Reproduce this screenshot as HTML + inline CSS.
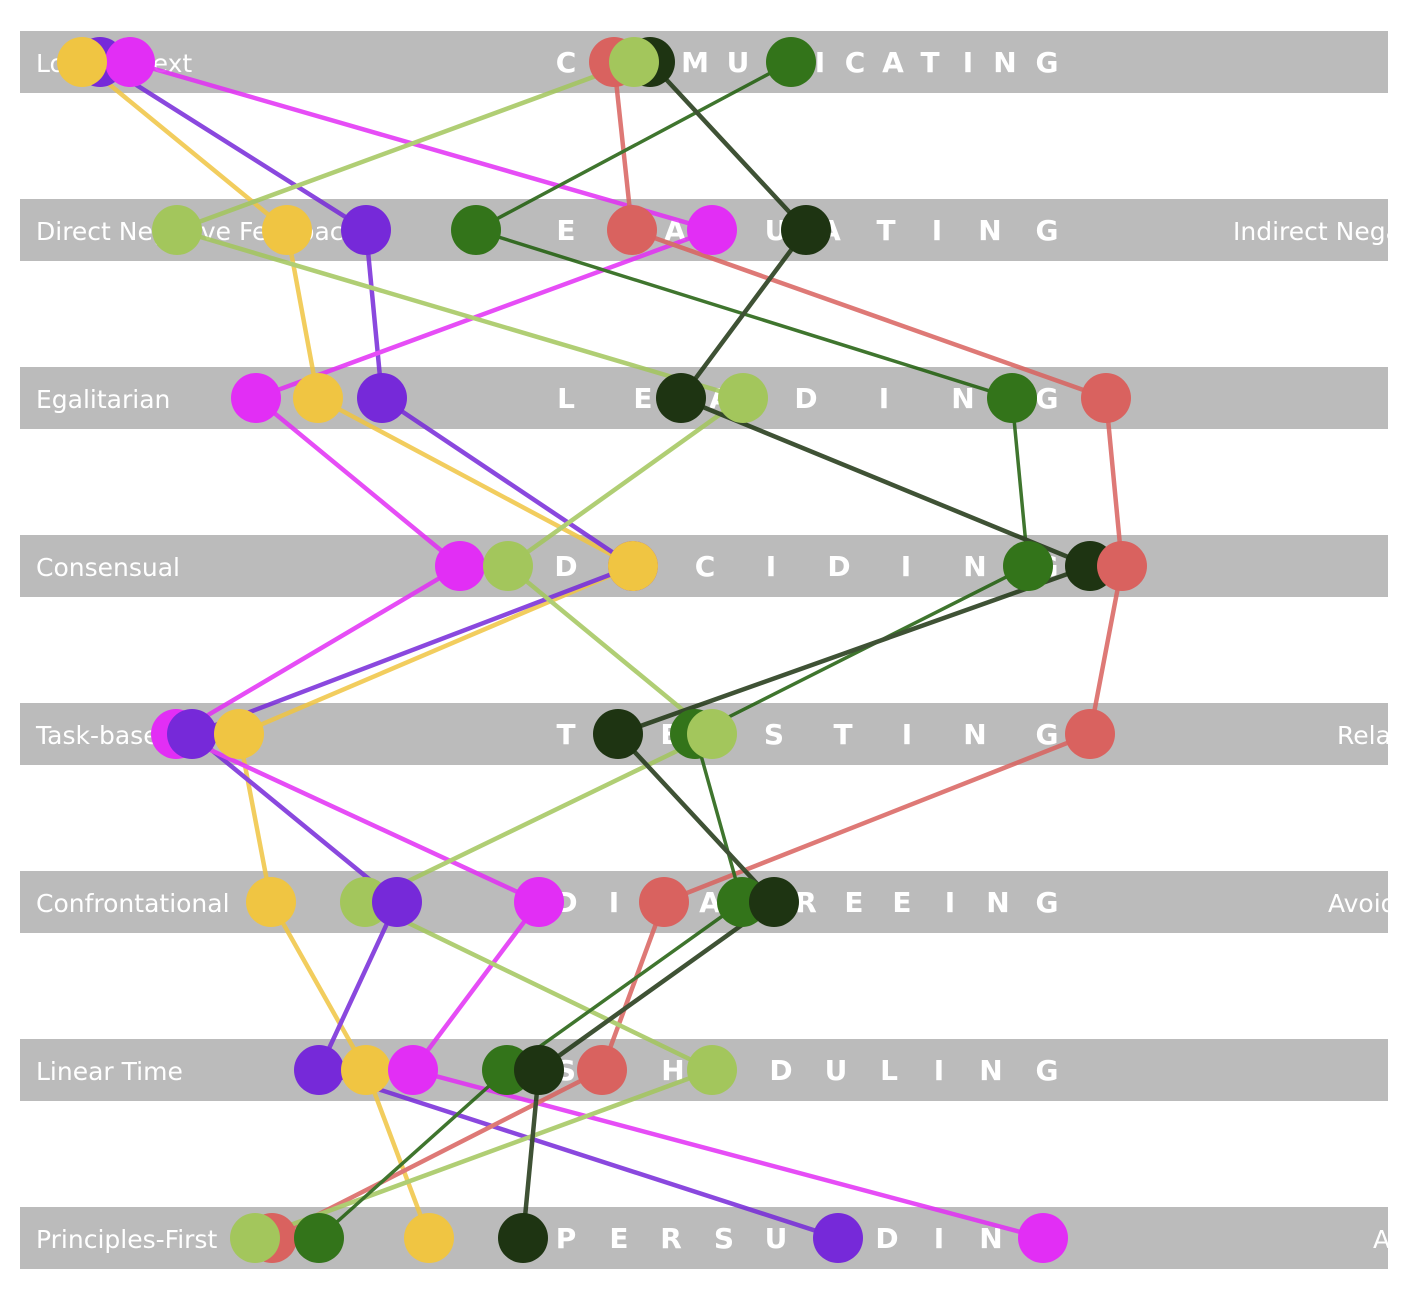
<!DOCTYPE html>
<html><head><meta charset="utf-8"><style>
html,body{margin:0;padding:0;background:#fff;}
svg{display:block;}
.lab{font-family:"DejaVu Sans","Liberation Sans",sans-serif;font-size:25px;fill:#fff;}
.let{font-family:"DejaVu Sans","Liberation Sans",sans-serif;font-size:28px;font-weight:bold;fill:#fff;text-anchor:middle;}
</style></head><body>
<svg width="1404" height="1290" viewBox="0 0 1404 1290" xmlns="http://www.w3.org/2000/svg">
<defs><clipPath id="c"><rect x="20" y="0" width="1368" height="1290"/></clipPath></defs>
<g fill="#bbbbbb">
<rect x="20" y="31" width="1368" height="62"/>
<rect x="20" y="199" width="1368" height="62"/>
<rect x="20" y="367" width="1368" height="62"/>
<rect x="20" y="535" width="1368" height="62"/>
<rect x="20" y="703" width="1368" height="62"/>
<rect x="20" y="871" width="1368" height="62"/>
<rect x="20" y="1039" width="1368" height="62"/>
<rect x="20" y="1207" width="1368" height="62"/>
</g>
<g clip-path="url(#c)">
<text class="lab" x="36" y="72">Low-Context</text>
<text class="lab" x="36" y="240">Direct Negative Feedback</text>
<text class="lab" x="1233" y="240">Indirect Negative Feedback</text>
<text class="lab" x="36" y="408">Egalitarian</text>
<text class="lab" x="36" y="576">Consensual</text>
<text class="lab" x="36" y="744">Task-based</text>
<text class="lab" x="1337" y="744">Relationship-based</text>
<text class="lab" x="36" y="912">Confrontational</text>
<text class="lab" x="1328" y="912">Avoids Confrontation</text>
<text class="lab" x="36" y="1080">Linear Time</text>
<text class="lab" x="36" y="1248">Principles-First</text>
<text class="lab" x="1373" y="1248">Applications-First</text>
</g>
<g>
<text class="let" y="72"><tspan x="566">C</tspan><tspan x="614">O</tspan><tspan x="695">M</tspan><tspan x="738">U</tspan><tspan x="780">N</tspan><tspan x="820">I</tspan><tspan x="855">C</tspan><tspan x="893">A</tspan><tspan x="930">T</tspan><tspan x="968">I</tspan><tspan x="1005">N</tspan><tspan x="1047">G</tspan></text>
<text class="let" y="240"><tspan x="566">E</tspan><tspan x="620">V</tspan><tspan x="675">A</tspan><tspan x="725">L</tspan><tspan x="776">U</tspan><tspan x="830">A</tspan><tspan x="886">T</tspan><tspan x="937">I</tspan><tspan x="990">N</tspan><tspan x="1047">G</tspan></text>
<text class="let" y="408"><tspan x="566">L</tspan><tspan x="643">E</tspan><tspan x="720">A</tspan><tspan x="806">D</tspan><tspan x="884">I</tspan><tspan x="963">N</tspan><tspan x="1047">G</tspan></text>
<text class="let" y="576"><tspan x="566">D</tspan><tspan x="636">E</tspan><tspan x="705">C</tspan><tspan x="771">I</tspan><tspan x="839">D</tspan><tspan x="906">I</tspan><tspan x="975">N</tspan><tspan x="1047">G</tspan></text>
<text class="let" y="744"><tspan x="566">T</tspan><tspan x="670">E</tspan><tspan x="774">S</tspan><tspan x="843">T</tspan><tspan x="907">I</tspan><tspan x="975">N</tspan><tspan x="1047">G</tspan></text>
<text class="let" y="912"><tspan x="566">D</tspan><tspan x="614">I</tspan><tspan x="662">S</tspan><tspan x="710">A</tspan><tspan x="758">G</tspan><tspan x="806">R</tspan><tspan x="854">E</tspan><tspan x="902">E</tspan><tspan x="950">I</tspan><tspan x="998">N</tspan><tspan x="1047">G</tspan></text>
<text class="let" y="1080"><tspan x="566">S</tspan><tspan x="612">C</tspan><tspan x="673">H</tspan><tspan x="725">E</tspan><tspan x="781">D</tspan><tspan x="836">U</tspan><tspan x="889">L</tspan><tspan x="939">I</tspan><tspan x="991">N</tspan><tspan x="1047">G</tspan></text>
<text class="let" y="1248"><tspan x="566">P</tspan><tspan x="619">E</tspan><tspan x="671">R</tspan><tspan x="724">S</tspan><tspan x="776">U</tspan><tspan x="830">A</tspan><tspan x="887">D</tspan><tspan x="939">I</tspan><tspan x="991">N</tspan><tspan x="1047">G</tspan></text>
</g>
<g opacity="0.85">
<polyline fill="none" stroke-width="4.5" stroke="#F0C542" points="82,62 287,230 318,398 633,566 239,734 271,902 366,1070 429,1238"/>
<polyline fill="none" stroke-width="4.5" stroke="#7629D9" points="100,62 366,230 382,398 633,566 192,734 397,902 319,1070 838,1238"/>
<polyline fill="none" stroke-width="4.5" stroke="#E22EF5" points="130,62 712,230 256,398 460,566 176,734 539,902 413,1070 1043,1238"/>
<polyline fill="none" stroke-width="4.5" stroke="#D9625F" points="614,62 632,230 1106,398 1122,566 1090,734 664,902 602,1070 272,1238"/>
<polyline fill="none" stroke-width="4.5" stroke="#A3C65C" points="634,62 177,230 743,398 508,566 712,734 365,902 712,1070 255,1238"/>
<polyline fill="none" stroke-width="3.5" stroke="#1E5E0A" points="791,62 476,230 1012,398 1028,566 695,734 742,902 507,1070 319,1238"/>
<polyline fill="none" stroke-width="4.5" stroke="#1E3412" points="650,62 806,230 681,398 1090,566 618,734 774,902 539,1070 523,1238"/>
</g>
<g>
<circle cx="614" cy="62" r="25" fill="#D9625F"/>
<circle cx="650" cy="62" r="25" fill="#1E3412"/>
<circle cx="634" cy="62" r="25" fill="#A3C65C"/>
<circle cx="791" cy="62" r="25" fill="#33741A"/>
<circle cx="100" cy="62" r="25" fill="#7629D9"/>
<circle cx="130" cy="62" r="25" fill="#E22EF5"/>
<circle cx="82" cy="62" r="25" fill="#F0C542"/>
<circle cx="177" cy="230" r="25" fill="#A3C65C"/>
<circle cx="287" cy="230" r="25" fill="#F0C542"/>
<circle cx="366" cy="230" r="25" fill="#7629D9"/>
<circle cx="476" cy="230" r="25" fill="#33741A"/>
<circle cx="632" cy="230" r="25" fill="#D9625F"/>
<circle cx="712" cy="230" r="25" fill="#E22EF5"/>
<circle cx="806" cy="230" r="25" fill="#1E3412"/>
<circle cx="256" cy="398" r="25" fill="#E22EF5"/>
<circle cx="318" cy="398" r="25" fill="#F0C542"/>
<circle cx="382" cy="398" r="25" fill="#7629D9"/>
<circle cx="681" cy="398" r="25" fill="#1E3412"/>
<circle cx="743" cy="398" r="25" fill="#A3C65C"/>
<circle cx="1012" cy="398" r="25" fill="#33741A"/>
<circle cx="1106" cy="398" r="25" fill="#D9625F"/>
<circle cx="460" cy="566" r="25" fill="#E22EF5"/>
<circle cx="508" cy="566" r="25" fill="#A3C65C"/>
<circle cx="633" cy="566" r="25" fill="#7629D9"/>
<circle cx="633" cy="566" r="25" fill="#F0C542"/>
<circle cx="1028" cy="566" r="25" fill="#33741A"/>
<circle cx="1090" cy="566" r="25" fill="#1E3412"/>
<circle cx="1122" cy="566" r="25" fill="#D9625F"/>
<circle cx="176" cy="734" r="25" fill="#E22EF5"/>
<circle cx="192" cy="734" r="25" fill="#7629D9"/>
<circle cx="239" cy="734" r="25" fill="#F0C542"/>
<circle cx="618" cy="734" r="25" fill="#1E3412"/>
<circle cx="695" cy="734" r="25" fill="#33741A"/>
<circle cx="712" cy="734" r="25" fill="#A3C65C"/>
<circle cx="1090" cy="734" r="25" fill="#D9625F"/>
<circle cx="271" cy="902" r="25" fill="#F0C542"/>
<circle cx="365" cy="902" r="25" fill="#A3C65C"/>
<circle cx="397" cy="902" r="25" fill="#7629D9"/>
<circle cx="539" cy="902" r="25" fill="#E22EF5"/>
<circle cx="664" cy="902" r="25" fill="#D9625F"/>
<circle cx="742" cy="902" r="25" fill="#33741A"/>
<circle cx="774" cy="902" r="25" fill="#1E3412"/>
<circle cx="319" cy="1070" r="25" fill="#7629D9"/>
<circle cx="366" cy="1070" r="25" fill="#F0C542"/>
<circle cx="413" cy="1070" r="25" fill="#E22EF5"/>
<circle cx="507" cy="1070" r="25" fill="#33741A"/>
<circle cx="539" cy="1070" r="25" fill="#1E3412"/>
<circle cx="602" cy="1070" r="25" fill="#D9625F"/>
<circle cx="712" cy="1070" r="25" fill="#A3C65C"/>
<circle cx="272" cy="1238" r="25" fill="#D9625F"/>
<circle cx="255" cy="1238" r="25" fill="#A3C65C"/>
<circle cx="319" cy="1238" r="25" fill="#33741A"/>
<circle cx="429" cy="1238" r="25" fill="#F0C542"/>
<circle cx="523" cy="1238" r="25" fill="#1E3412"/>
<circle cx="838" cy="1238" r="25" fill="#7629D9"/>
<circle cx="1043" cy="1238" r="25" fill="#E22EF5"/>
</g>
</svg>
</body></html>
